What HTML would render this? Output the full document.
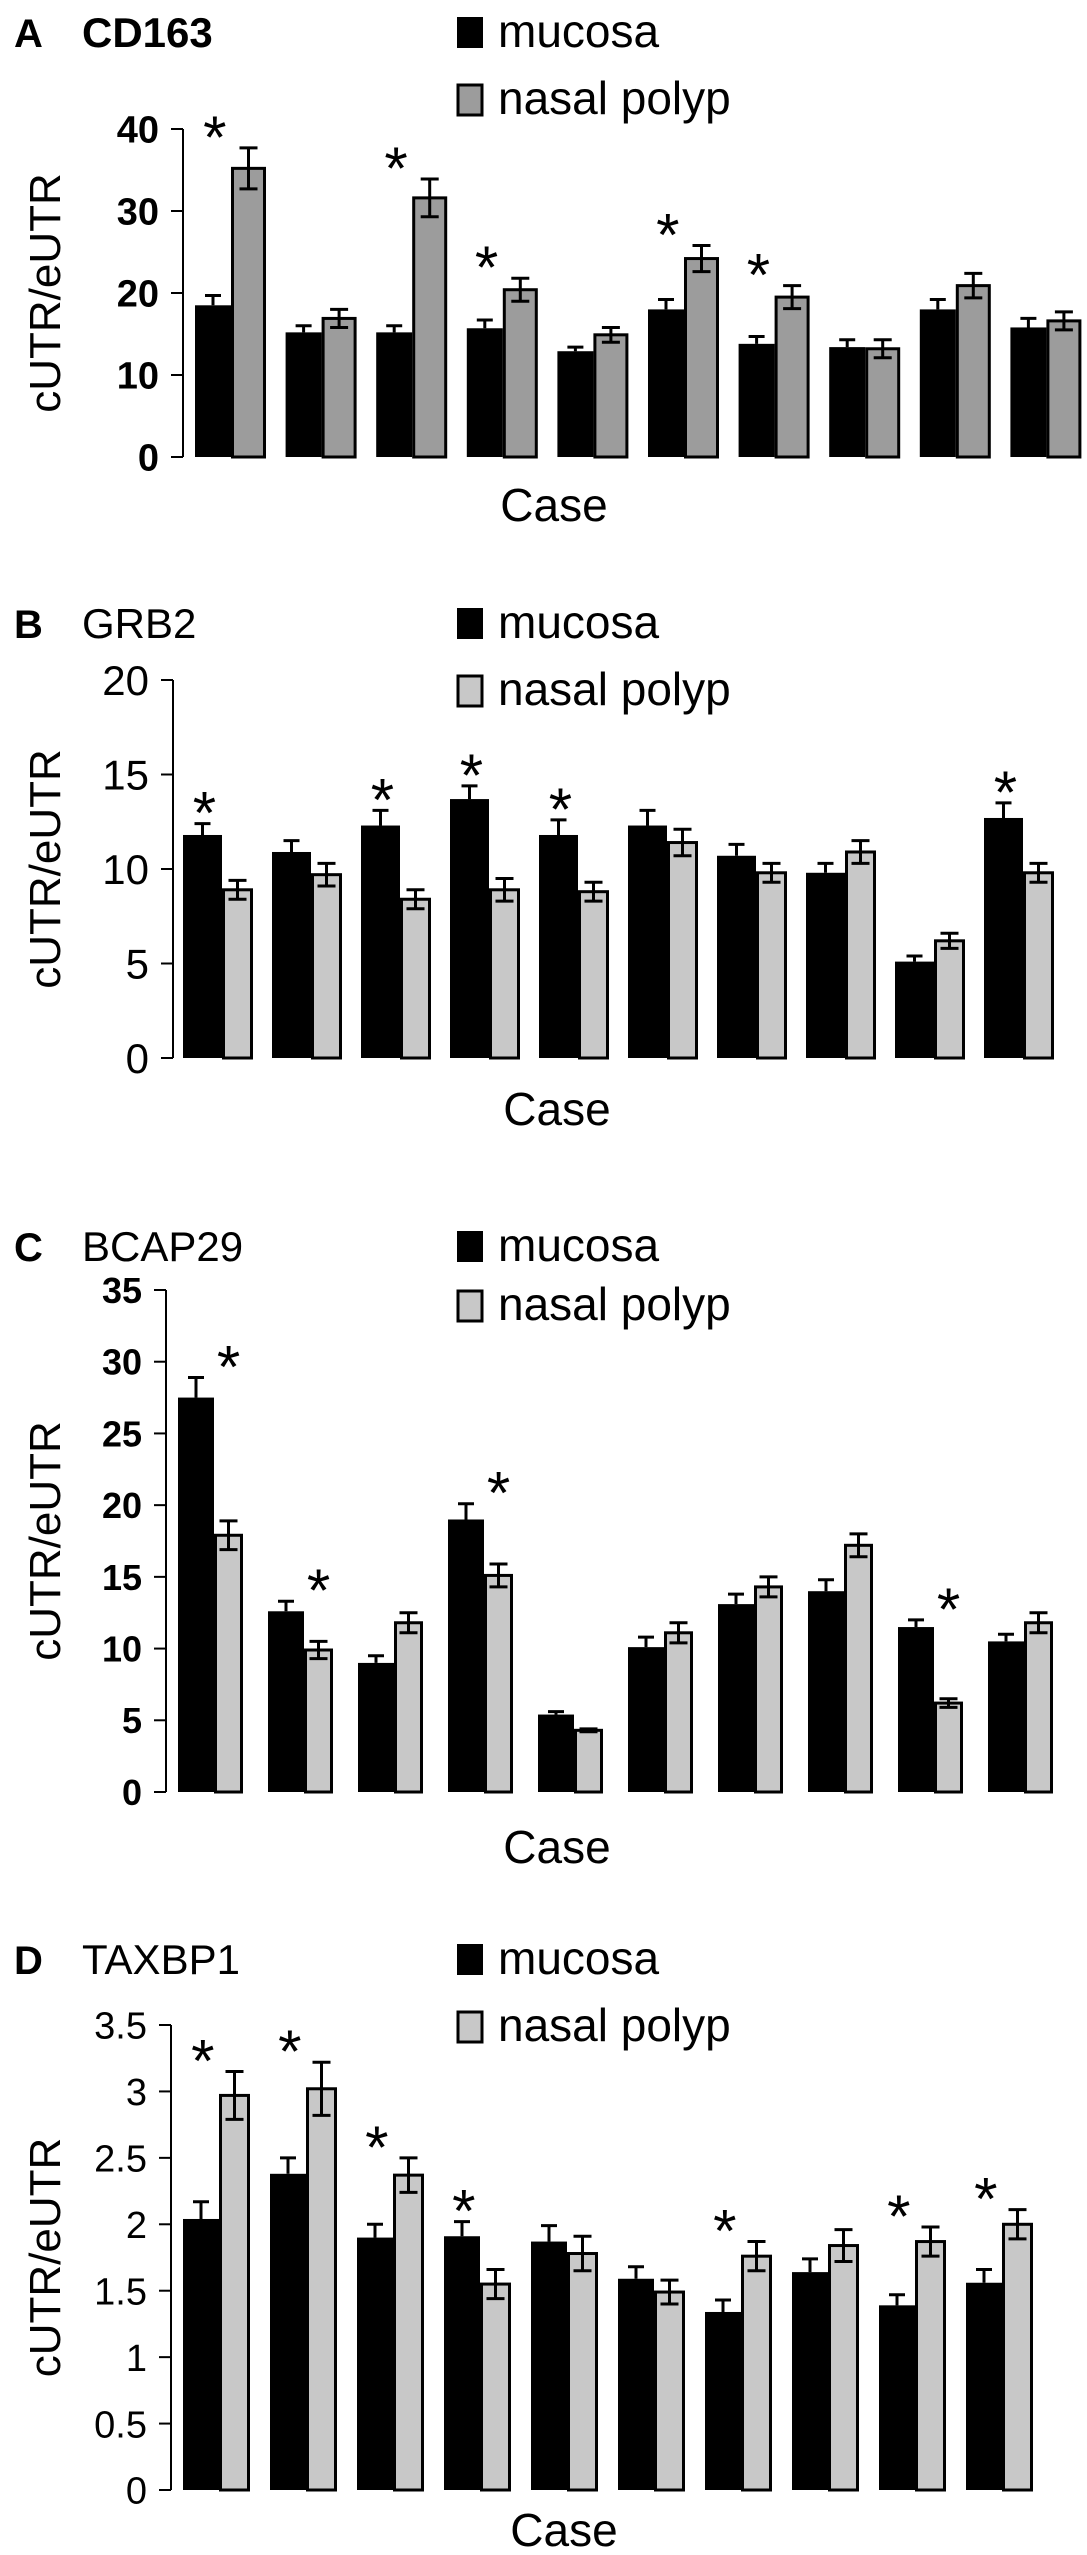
<!DOCTYPE html>
<html><head><meta charset="utf-8"><style>
html,body{margin:0;padding:0;background:#fff}
svg{display:block}
text{font-family:"Liberation Sans Narrow","Liberation Sans",sans-serif;fill:#000}
</style></head><body>
<svg id="fig" width="1087" height="2555" viewBox="0 0 1087 2555" xmlns="http://www.w3.org/2000/svg"></svg>
<script>
const caseLabels = [1,2,3,4,5,6,7,8,9,10];
const aMucosa = [18.5,15.2,15.2,15.7,12.9,18.0,13.8,13.4,18.0,15.8];
const aMucosaErr = [1.2,0.8,0.8,1.0,0.5,1.2,0.9,0.9,1.2,1.1];
const aPolyp = [35.2,16.9,31.6,20.4,14.9,24.2,19.5,13.2,20.9,16.6];
const aPolypErr = [2.5,1.1,2.3,1.4,0.9,1.6,1.4,1.1,1.5,1.1];
const aStars = [1,0,1,1,0,1,1,0,0,0];
const aTicks = [0,10,20,30,40];
const bMucosa = [11.8,10.9,12.3,13.7,11.8,12.3,10.7,9.8,5.1,12.7];
const bMucosaErr = [0.6,0.6,0.8,0.7,0.8,0.8,0.6,0.5,0.3,0.8];
const bPolyp = [8.9,9.7,8.4,8.9,8.8,11.4,9.8,10.9,6.2,9.8];
const bPolypErr = [0.5,0.6,0.5,0.6,0.5,0.7,0.5,0.6,0.4,0.5];
const bStars = [1,0,1,1,1,0,0,0,0,1];
const bTicks = [0,5,10,15,20];
const cMucosa = [27.5,12.6,9.0,19.0,5.4,10.1,13.1,14.0,11.5,10.5];
const cMucosaErr = [1.4,0.7,0.5,1.1,0.2,0.7,0.7,0.8,0.5,0.5];
const cPolyp = [17.9,9.9,11.8,15.1,4.3,11.1,14.3,17.2,6.2,11.8];
const cPolypErr = [1.0,0.6,0.7,0.8,0.1,0.7,0.7,0.8,0.3,0.7];
const cStars = [1,1,0,1,0,0,0,0,1,0];
const cTicks = [0,5,10,15,20,25,30,35];
const dMucosa = [2.04,2.38,1.90,1.91,1.87,1.59,1.34,1.64,1.39,1.56];
const dMucosaErr = [0.13,0.12,0.10,0.11,0.12,0.09,0.09,0.10,0.08,0.10];
const dPolyp = [2.97,3.02,2.37,1.55,1.78,1.49,1.76,1.84,1.87,2.00];
const dPolypErr = [0.18,0.20,0.13,0.11,0.13,0.09,0.11,0.12,0.11,0.11];
const dStars = [1,1,1,1,0,0,1,0,1,1];
const dTicks = [0,0.5,1,1.5,2,2.5,3,3.5];

const NS = "http://www.w3.org/2000/svg";
const svg = document.getElementById('fig');
function mk(tag, attrs, parent, txt){
  const e = document.createElementNS(NS, tag);
  for (const k in attrs) e.setAttribute(k, attrs[k]);
  if (txt !== undefined) e.textContent = txt;
  (parent||svg).appendChild(e);
  return e;
}

function panel(cfg){
  const g = mk('g', {});
  
  
  const y = v => cfg.y0 - v / cfg.max * (cfg.y0 - cfg.yTop);
  const gx = i => cfg.x0 + i * cfg.pitch;
  let t = mk('text', {x: 14, y: cfg.titleY, 'font-size': 40, 'font-weight': 'bold'}, g, cfg.letter);
  
  
  t = mk('text', {x: 82, y: cfg.titleY, 'font-size': 42, 'font-weight': cfg.boldTitle ? 'bold' : 'normal'}, g, cfg.title);
  
  
  let r = mk('rect', {x: 457, y: cfg.titleY - 30, width: 26, height: 31, fill: '#000'}, g);
  
  
  t = mk('text', {x: 498, y: cfg.titleY, 'font-size': 46}, g, 'mucosa');
  
  
  r = mk('rect', {x: 458, y: cfg.legY - 29, width: 24, height: 30, fill: cfg.gray, stroke: '#000', 'stroke-width': 3}, g);
  
  
  t = mk('text', {x: 498, y: cfg.legY, 'font-size': 46}, g, 'nasal polyp');
  
  
  let l = mk('line', {x1: cfg.ax, y1: cfg.yTop, x2: cfg.ax, y2: cfg.y0, stroke: '#000', 'stroke-width': 2}, g);
  
  
  cfg.ticks.forEach(v => {
    const tl = mk('line', {x1: cfg.ax - 12, y1: y(v), x2: cfg.ax, y2: y(v), stroke: '#000', 'stroke-width': 2}, g);
    
    
    const tt = mk('text', {x: cfg.ax - 24, y: y(v) + cfg.tickFs * 0.36, 'font-size': cfg.tickFs, 'text-anchor': 'end', 'font-weight': cfg.boldTicks ? 'bold' : 'normal'}, g, String(v));
    
    
  });
  const yc = (cfg.yTop + cfg.y0) / 2;
  t = mk('text', {x: 0, y: 0, 'font-size': 44, 'text-anchor': 'middle', transform: `translate(60 ${yc}) rotate(-90)`, style: 'font-family:"Liberation Sans",sans-serif'}, g, 'cUTR/eUTR');
  
  
  t = mk('text', {x: cfg.caseX, y: cfg.caseY, 'font-size': 46, 'text-anchor': 'middle'}, g, 'Case');
  
  
  caseLabels.forEach((c, i) => {
    const bx = gx(i);
    const m = cfg.m[i], p = cfg.p[i];
    const rb = mk('rect', {x: bx, y: y(m), width: cfg.bw, height: cfg.y0 - y(m), fill: '#000'}, g);
    
    
    const px = bx + cfg.bw;
    const rp = mk('rect', {x: px + 1.5, y: y(p), width: cfg.gw - 3, height: cfg.y0 - y(p), fill: cfg.gray, stroke: '#000', 'stroke-width': 3}, g);
    
    
    const ebm = mk('path', {d: `M${bx+cfg.bw/2} ${y(m)} V${y(m+cfg.me[i])} M${bx+cfg.bw/2-8} ${y(m+cfg.me[i])} H${bx+cfg.bw/2+8}`, stroke: '#000', 'stroke-width': 3, fill: 'none'}, g);
    
    
    const cx = px + cfg.gw/2;
    const ebp = mk('path', {d: `M${cx} ${y(p-cfg.pe[i])} V${y(p+cfg.pe[i])} M${cx-9} ${y(p+cfg.pe[i])} H${cx+9} M${cx-9} ${y(p-cfg.pe[i])} H${cx+9}`, stroke: '#000', 'stroke-width': 3, fill: 'none'}, g);
    
    
    if (cfg.stars[i]) {
      const top = Math.max(m + cfg.me[i], p + cfg.pe[i]);
      const sx = cfg.starAtGray ? cx : bx + cfg.bw * 0.55;
      const st = mk('text', {x: sx, y: y(top) + 10, 'font-size': 60, 'text-anchor': 'middle', style: 'font-family:"Liberation Sans",sans-serif'}, g, '*');
      
      
    }
  });
}

panel({key:'cd163', letter:'A', title:'CD163', boldTitle:true, titleY:47, legY:114, ax:183, x0:195, pitch:90.6, bw:36, gw:35, y0:457, yTop:129, max:40, ticks:aTicks, tickFs:38, boldTicks:true, m:aMucosa, me:aMucosaErr, p:aPolyp, pe:aPolypErr, stars:aStars, gray:'#9c9c9c', caseX:554, caseY:521});
panel({key:'grb2', letter:'B', title:'GRB2', titleY:638, legY:705, ax:173, x0:183, pitch:89, bw:39, gw:31, y0:1058, yTop:680, max:20, ticks:bTicks, tickFs:42, m:bMucosa, me:bMucosaErr, p:bPolyp, pe:bPolypErr, stars:bStars, gray:'#c8c8c8', caseX:557, caseY:1125});
panel({key:'bcap29', letter:'C', title:'BCAP29', titleY:1261, legY:1320, ax:166, x0:178, pitch:90, bw:36, gw:29, y0:1792, yTop:1290, max:35, ticks:cTicks, tickFs:36, boldTicks:true, m:cMucosa, me:cMucosaErr, p:cPolyp, pe:cPolypErr, stars:cStars, starAtGray:true, gray:'#c8c8c8', caseX:557, caseY:1863});
panel({key:'taxbp1', letter:'D', title:'TAXBP1', titleY:1974, legY:2041, ax:171, x0:183, pitch:87, bw:36, gw:31, y0:2490, yTop:2025, max:3.5, ticks:dTicks, tickFs:38, m:dMucosa, me:dMucosaErr, p:dPolyp, pe:dPolypErr, stars:dStars, gray:'#c8c8c8', caseX:564, caseY:2546});
</script>
</body></html>
